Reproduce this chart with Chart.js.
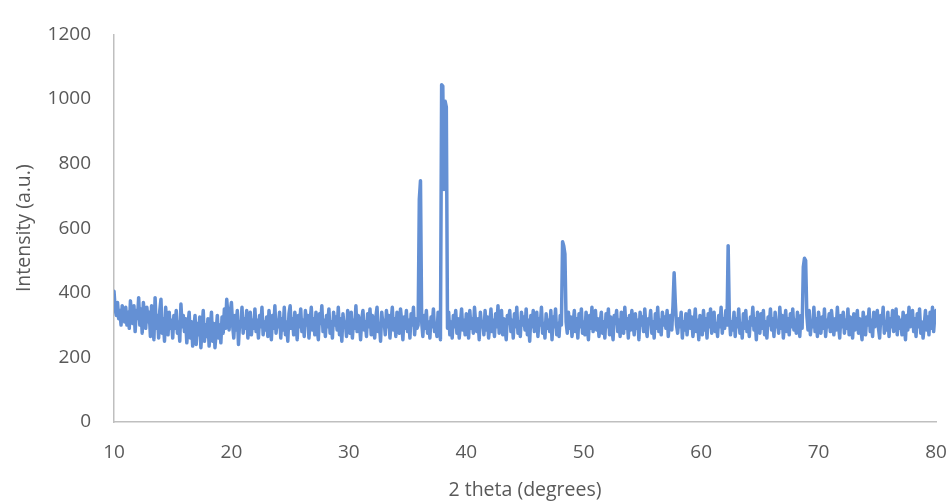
<!DOCTYPE html>
<html>
<head>
<meta charset="utf-8">
<title>XRD pattern</title>
<script src="https://cdn.jsdelivr.net/npm/chart.js@4.4.0/dist/chart.umd.min.js"></script>
<style>
  html, body { margin: 0; padding: 0; background: #ffffff; }
  #wrap { width: 950px; height: 502px; position: relative; }
</style>
</head>
<body>
<div id="wrap"><canvas id="xrdChart"></canvas></div>
<script>
// scan settings (2 theta, degrees)
const scanStart = 10;
const scanStep = 0.1;

// intensity readings, one row per degree (10.0 ... 10.9, 11.0 ... 11.9, ...)
const intensity = [
  405, 350, 330, 370, 320, 345, 300, 360, 335, 310,
  355, 300, 340, 290, 375, 330, 305, 360, 280, 345,
  320, 385, 300, 350, 275, 370, 330, 290, 355, 310,
  340, 265, 360, 300, 255, 385, 290, 330, 260, 345,
  380, 275, 320, 250, 355, 300, 270, 340, 290, 315,
  260, 330, 290, 345, 275, 310, 250, 365, 295, 330,
  280, 320, 245, 300, 340, 260, 310, 235, 290, 330,
  240, 305, 270, 325, 230, 290, 345, 250, 300, 265,
  320, 235, 290, 340, 250, 305, 230, 280, 330, 260,
  300, 245, 325, 275, 350, 290, 380, 330, 285, 340,
  370, 300, 260, 330, 285, 345, 240, 310, 295, 355, // 20
  275, 320, 290, 345, 260, 305, 340, 270, 315, 290,
  350, 280, 315, 260, 330, 295, 355, 270, 310, 285,
  325, 265, 345, 300, 255, 330, 290, 360, 275, 315,
  295, 340, 260, 320, 285, 355, 270, 310, 250, 335,
  360, 290, 320, 270, 340, 305, 255, 330, 295, 350,
  280, 315, 265, 345, 300, 330, 260, 310, 355, 285,
  320, 270, 340, 290, 255, 335, 305, 360, 280, 315,
  265, 330, 295, 350, 275, 310, 260, 340, 300, 325,
  285, 355, 270, 320, 250, 335, 295, 310, 265, 345,
  300, 275, 340, 260, 315, 290, 360, 280, 330, 305, // 30
  255, 320, 345, 285, 310, 265, 335, 295, 350, 270,
  330, 290, 260, 325, 355, 280, 305, 250, 340, 300,
  315, 270, 345, 295, 330, 260, 310, 355, 285, 320,
  265, 340, 300, 275, 350, 310, 255, 325, 290, 345,
  280, 315, 260, 335, 300, 355, 270, 320, 290, 300,
  690, 747, 310, 265, 330, 290, 345, 275, 310, 260,
  325, 295, 350, 280, 305, 265, 340, 300, 255, 1044,
  1040, 720, 993, 975, 290, 340, 270, 310, 260, 330,
  295, 345, 275, 320, 260, 305, 350, 285, 315, 270,
  335, 300, 260, 345, 290, 320, 275, 355, 305, 280, // 40
  320, 255, 340, 295, 310, 270, 345, 285, 325, 260,
  300, 350, 280, 315, 265, 335, 295, 360, 275, 310,
  345, 270, 320, 290, 255, 330, 305, 345, 280, 315,
  260, 335, 295, 355, 275, 310, 265, 340, 300, 325,
  285, 350, 270, 315, 250, 330, 295, 345, 280, 310,
  340, 265, 320, 300, 355, 275, 305, 260, 335, 290,
  315, 280, 345, 255, 325, 295, 350, 270, 305, 265,
  330, 300, 558, 545, 520, 310, 275, 340, 290, 325,
  265, 305, 345, 280, 320, 260, 335, 295, 350, 275,
  310, 270, 340, 300, 255, 330, 290, 355, 280, 315, // 50
  345, 285, 320, 265, 305, 340, 275, 310, 260, 335,
  295, 350, 270, 325, 290, 255, 330, 305, 345, 280,
  315, 265, 340, 300, 275, 355, 290, 320, 260, 330,
  285, 345, 305, 270, 335, 290, 315, 255, 340, 300,
  325, 280, 350, 295, 265, 320, 305, 345, 275, 310,
  260, 335, 290, 355, 280, 315, 270, 340, 300, 325,
  290, 345, 265, 310, 330, 285, 360, 462, 370, 300,
  275, 320, 295, 340, 260, 310, 285, 335, 270, 315,
  345, 290, 325, 265, 300, 350, 280, 315, 255, 330,
  300, 270, 345, 285, 320, 260, 335, 295, 350, 275, // 60
  315, 340, 280, 305, 265, 330, 295, 355, 275, 320,
  290, 345, 300, 546, 330, 270, 310, 285, 340, 265,
  320, 295, 350, 275, 305, 260, 335, 290, 345, 280,
  310, 265, 325, 300, 355, 285, 320, 255, 340, 295,
  275, 335, 290, 345, 270, 310, 260, 325, 300, 350,
  285, 320, 265, 340, 295, 310, 275, 355, 290, 330,
  260, 305, 345, 280, 320, 270, 335, 295, 350, 285,
  315, 275, 340, 300, 265, 330, 290, 480, 507, 500,
  330, 285, 345, 270, 310, 295, 355, 280, 320, 265,
  340, 300, 275, 325, 290, 350, 265, 315, 295, 335, // 70
  280, 345, 305, 270, 320, 285, 355, 300, 260, 330,
  295, 340, 275, 315, 290, 350, 270, 325, 300, 260,
  335, 285, 310, 345, 275, 320, 290, 255, 340, 305,
  270, 325, 300, 350, 280, 315, 265, 340, 295, 320,
  345, 290, 260, 330, 305, 355, 275, 310, 285, 340,
  265, 320, 295, 345, 280, 305, 350, 270, 325, 290,
  315, 270, 340, 300, 255, 330, 285, 355, 295, 310,
  345, 280, 320, 265, 335, 295, 350, 275, 310, 260,
  300, 345, 285, 325, 270, 340, 290, 355, 280, 330,
  345 // 80
];

// axis ticks
const xTicks = [10, 20, 30, 40, 50, 60, 70, 80];
const yTicks = [0, 200, 400, 600, 800, 1000, 1200];

const textColor = '#595959';
const axisColor = '#bfbfbf';
const fontFamily = '"Open Sans", "Liberation Sans", sans-serif';

function renderXrdChart() {
    const points = intensity.map((v, i) => ({ x: +(scanStart + i * scanStep).toFixed(1), y: v }));
    const ctx = document.getElementById('xrdChart').getContext('2d');
    new Chart(ctx, {
        type: 'line',
        data: {
            datasets: [{
                data: points,
                borderColor: 'rgb(100, 144, 212)',
                borderWidth: 3.5,
                borderJoinStyle: 'round',
                borderCapStyle: 'round',
                pointRadius: 0,
                tension: 0,
                fill: false
            }]
        },
        options: {
            responsive: true,
            maintainAspectRatio: false,
            animation: false,
            layout: { padding: { top: 22, right: 0, left: 0, bottom: 0 } },
            plugins: { legend: { display: false }, tooltip: { enabled: false } },
            scales: {
                x: {
                    type: 'linear',
                    min: xTicks[0],
                    max: xTicks[xTicks.length - 1],
                    afterBuildTicks: scale => { scale.ticks = xTicks.map(v => ({ value: v })); },
                    afterFit: scale => { scale.height = 80; scale.paddingRight = 14; },
                    grid: { color: 'transparent', drawTicks: false },
                    border: { display: true, color: axisColor, width: 1.5 },
                    ticks: {
                        color: textColor, padding: 19, maxRotation: 0,
                        font: { family: fontFamily, size: 19 },
                        callback: v => String(v)
                    },
                    title: {
                        display: true,
                        text: '2 theta (degrees)',
                        color: textColor,
                        padding: { top: 0, bottom: 0 },
                        font: { family: fontFamily, size: 19.5 }
                    }
                },
                y: {
                    min: yTicks[0],
                    max: yTicks[yTicks.length - 1],
                    afterBuildTicks: scale => { scale.ticks = yTicks.map(v => ({ value: v })); },
                    afterFit: scale => { scale.width = 114; },
                    grid: { color: 'transparent', drawTicks: false },
                    border: { display: true, color: axisColor, width: 1.5 },
                    ticks: {
                        color: textColor, padding: 23,
                        font: { family: fontFamily, size: 19 },
                        callback: v => String(v)
                    },
                    title: {
                        display: true,
                        text: 'Intensity (a.u.)',
                        color: textColor,
                        padding: { top: 13, bottom: 0 },
                        font: { family: fontFamily, size: 19.5 }
                    }
                }
            }
        }
    });
}

window.onload = function() {
    renderXrdChart();
};
</script>
</body>
</html>
